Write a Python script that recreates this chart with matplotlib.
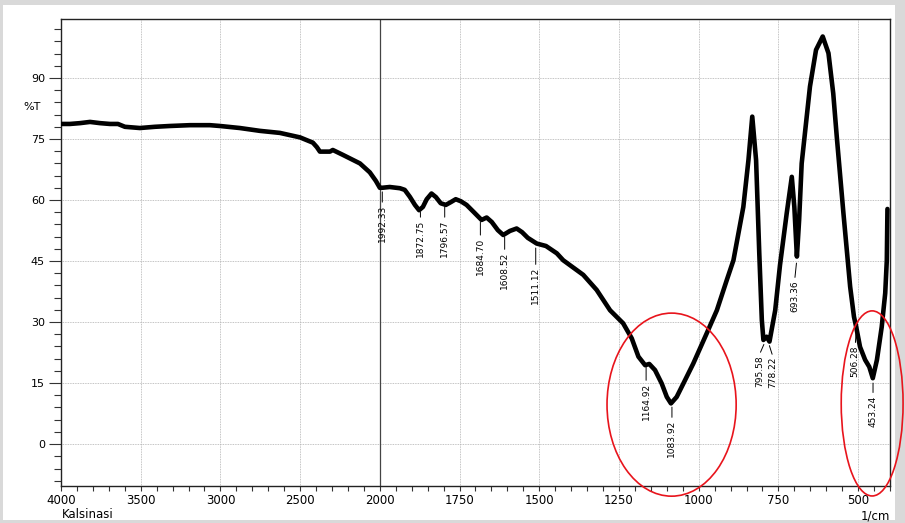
import numpy as np
import matplotlib
matplotlib.use("Agg")
import matplotlib.pyplot as plt
from matplotlib.patches import Ellipse, Rectangle
from matplotlib.ticker import FixedLocator

# FTIR spectrum: wavenumber (1/cm) and %T
wavenumber = [4000, 3944, 3881, 3818, 3755, 3693, 3643, 3599, 3505, 3411,
              3317, 3191, 3066, 3003, 2878, 2752, 2627, 2501, 2420, 2395,
              2376, 2313, 2295, 2232, 2125, 2063, 2025, 2000,
              1994, 1969, 1937, 1922, 1906, 1890, 1877, 1865, 1853, 1838,
              1824, 1809, 1793, 1777, 1762, 1746, 1728, 1705, 1681, 1665,
              1649, 1630, 1613, 1592, 1571, 1554, 1536, 1508, 1479, 1445,
              1425, 1362, 1320, 1278, 1237, 1210, 1189, 1168, 1155, 1137,
              1116, 1100, 1087, 1069, 1048, 1017, 975, 943, 912, 891,
              860, 844, 832, 820, 810, 802, 797, 787, 778, 760,
              745, 724, 708, 700, 692, 685, 677, 651, 632, 611,
              593, 578, 567, 546, 525, 513, 506, 494, 478, 465,
              454, 441, 426, 415, 410, 408]
transmittance = [78.7, 78.7, 78.9, 79.2, 78.9, 78.7, 78.7, 78.0, 77.7, 78.0,
                 78.2, 78.4, 78.4, 78.2, 77.7, 77.0, 76.5, 75.4, 74.1, 73.0,
                 71.9, 71.9, 72.3, 71.1, 69.0, 66.8, 64.7, 63.0,
                 63.0, 63.2, 62.9, 62.5, 60.8, 58.8, 57.5, 58.3, 60.2, 61.6,
                 60.7, 59.2, 58.8, 59.5, 60.2, 59.7, 58.8, 57.0, 55.1, 55.7,
                 54.6, 52.6, 51.4, 52.4, 53.0, 52.1, 50.7, 49.3, 48.7, 46.9,
                 45.2, 41.6, 37.9, 32.9, 29.7, 26.0, 21.5, 19.4, 19.7, 18.2,
                 14.9, 11.6, 10.0, 11.6, 14.9, 19.8, 27.2, 32.9, 40.3, 45.2,
                 58.3, 69.8, 80.5, 69.8, 46.9, 30.5, 25.6, 26.4, 25.2, 32.9,
                 44.0, 56.7, 65.7, 58.3, 46.1, 55.1, 69.0, 87.9, 96.9, 100.2,
                 96.1, 86.2, 75.6, 56.7, 38.7, 31.3, 28.8, 23.9, 20.7, 19.0,
                 16.2, 20.7, 28.8, 37.1, 45.2, 57.8]

# peak labels: value, text x, text top y, leader start y
peak_labels = ["1992.33", "1872.75", "1796.57", "1684.70", "1608.52", "1511.12",
               "1164.92", "1083.92", "795.58", "778.22", "693.36", "506.28", "453.24"]
peak_x = [1992.33, 1872.75, 1796.57, 1684.70, 1608.52, 1511.12,
          1164.92, 1083.92, 795.58, 778.22, 693.36, 506.28, 453.24]
label_x = [1992.33, 1872.75, 1796.57, 1684.70, 1608.52, 1511.12,
           1164.92, 1083.92, 810, 767, 699, 509, 453.24]
label_top = [58.8, 55.1, 55.1, 50.7, 47.2, 43.5, 15.0, 5.9, 21.9, 21.4, 40.3, 24.3, 12.0]
leader_top = [62.0, 57.0, 58.3, 54.6, 50.9, 48.2, 18.9, 9.1, 24.5, 24.2, 44.5, 27.5, 15.0]

x_major = [4000, 3500, 3000, 2500, 2000, 1750, 1500, 1250, 1000, 750, 500]
x_minor = list(range(4000, 2000, -100)) + list(range(2000, 399, -50))
y_major = [0, 15, 30, 45, 60, 75, 90]
y_minor = list(range(-9, 104, 3))


def forward(x):
    x = np.asarray(x, dtype=float)
    return np.where(x > 2000, 2000 + (x - 2000) / 2.0, x)


def inverse(u):
    u = np.asarray(u, dtype=float)
    return np.where(u > 2000, 2000 + (u - 2000) * 2.0, u)


W, H = 905, 523
fig = plt.figure(figsize=(W / 100, H / 100), dpi=100, facecolor="#d9d9d9")
fig.patches.append(Rectangle((3 / W, 3 / H), 892 / W, 515 / H, transform=fig.transFigure,
                             facecolor="white", edgecolor="none", zorder=-10))
ax = fig.add_axes([61 / W, 37 / H, 829 / W, 467 / H])
ax.set_facecolor("white")
ax.set_xscale("function", functions=(forward, inverse))
ax.set_xlim(4000, 400)
ax.set_ylim(-10.3, 104.5)

ax.xaxis.set_major_locator(FixedLocator(x_major))
ax.xaxis.set_minor_locator(FixedLocator(x_minor))
ax.set_xticklabels([str(v) for v in x_major])
ax.yaxis.set_major_locator(FixedLocator(y_major))
ax.yaxis.set_minor_locator(FixedLocator(y_minor))
ax.set_yticklabels([str(v) for v in y_major])

ax.tick_params(axis="x", which="both", direction="out", length=3.5, width=0.8,
               color="#333333", labelsize=8.5, pad=2)
ax.tick_params(axis="y", which="major", direction="out", length=8.6, width=0.8,
               color="#333333", labelsize=8, pad=3)
ax.tick_params(axis="y", which="minor", direction="out", length=4.8, width=0.8,
               color="#333333")
for s in ax.spines.values():
    s.set_color("#222222")
    s.set_linewidth(1.0)

ax.grid(True, which="major", color="#b0b0b0", linestyle=(0, (1, 1)), linewidth=0.6)
ax.axvline(2000, color="#444444", linewidth=0.9, zorder=2)

ax.plot(wavenumber, transmittance, color="black", linewidth=3.3,
        solid_joinstyle="round", solid_capstyle="round", zorder=3)

for txt, px, lx, ty, ly in zip(peak_labels, peak_x, label_x, label_top, leader_top):
    ax.annotate(txt, xy=(px, ly), xytext=(lx, ty), rotation=90, ha="center", va="top",
                fontsize=6.5, color="black", zorder=4,
                arrowprops=dict(arrowstyle="-", color="black", lw=0.7,
                                shrinkA=0, shrinkB=0, relpos=(0.5, 1.0)))

ax.add_patch(Ellipse((1085, 9.7), 405, 45, fill=False, edgecolor="#e8141c",
                     linewidth=1.2, clip_on=False, zorder=5))
ax.add_patch(Ellipse((456, 10.0), 194, 45.5, fill=False, edgecolor="#e8141c",
                     linewidth=1.2, clip_on=False, zorder=5))

fig.text(32 / W, 1 - 107 / H, "%T", ha="center", va="center", fontsize=8)
fig.text(62 / W, 1 - 515 / H, "Kalsinasi", ha="left", va="center", fontsize=8.5)
fig.text(890 / W, 1 - 516 / H, "1/cm", ha="right", va="center", fontsize=8.5)

fig.savefig("out.png", dpi=100, facecolor=fig.get_facecolor())
